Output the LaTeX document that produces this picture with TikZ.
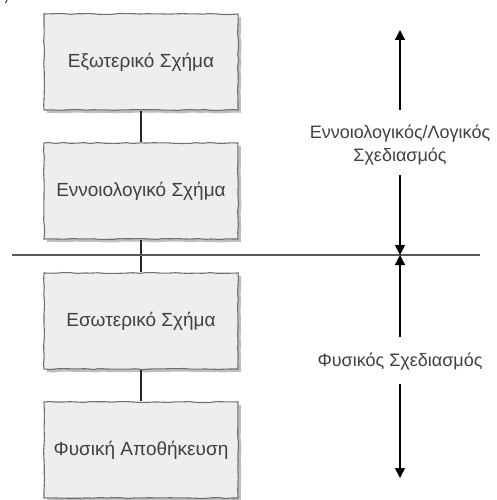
\documentclass[tikz,border=0pt]{standalone}
\usepackage{fontspec}
\setmainfont{Liberation Sans}
\usetikzlibrary{arrows.meta,shadows,decorations.pathmorphing}
\definecolor{boxfill}{HTML}{EEEEEE}
\definecolor{boxline}{HTML}{707070}
\definecolor{txt}{HTML}{404040}
\tikzset{
  layerbox/.style={draw=boxline, line width=1.1pt, fill=boxfill,
    minimum width=194pt, minimum height=96pt, inner sep=0pt,
    decorate, decoration={random steps, segment length=7pt, amplitude=0.5pt},
    drop shadow={shadow xshift=3pt, shadow yshift=-3pt, fill=black, opacity=0.25},
    font=\fontsize{19}{22}\selectfont, text=txt},
  link/.style={draw=black!85, line width=1.2pt},
  divider/.style={draw=black!65, line width=1.6pt},
  span/.style={draw=black, line width=1.4pt, -{Triangle[width=10pt,length=10pt]}},
  caption/.style={font=\fontsize{18}{23}\selectfont, text=txt, align=center, inner sep=0pt}
}
\begin{document}
\begin{tikzpicture}[x=1pt, y=-1pt]
  \pgfmathsetseed{7}
  \useasboundingbox (0,0) rectangle (496,500);
  % small stray stroke in the upper left corner
  \draw[black!80, line width=1pt] (5.5,3) -- (7,0);

  % the four layers
  \node[layerbox] (ext)  at (141,62)  {Εξωτερικό Σχήμα};
  \node[layerbox] (conc) at (141,191) {Εννοιολογικό Σχήμα};
  \node[layerbox] (int)  at (141,321) {Εσωτερικό Σχήμα};
  \node[layerbox] (phys) at (141,450) {Φυσική Αποθήκευση};

  \draw[link] (ext) -- (conc);
  \draw[link] (conc) -- (int);
  \draw[link] (int) -- (phys);

  % boundary between the two design levels
  \coordinate (divL) at (12,255);
  \coordinate (divR) at (480,255);
  \draw[divider] (divL) -- (divR);

  % level labels with their extent arrows
  \coordinate (mid) at (400,255);
  \coordinate (topend) at (400,30);
  \coordinate (botend) at (400,478);
  \node[caption] (logic) at (400,145) {Εννοιολογικός/Λογικός\\Σχεδιασμός};
  \node[caption] (physd) at (400,362) {Φυσικός Σχεδιασμός};
  \coordinate (a1) at (400,110);
  \coordinate (a2) at (400,175);
  \coordinate (a3) at (400,337);
  \coordinate (a4) at (400,384);
  \draw[span] (a1) -- (topend);
  \draw[span] (a2) -- (mid);
  \draw[span] (a3) -- (mid);
  \draw[span] (a4) -- (botend);
\end{tikzpicture}
\end{document}
